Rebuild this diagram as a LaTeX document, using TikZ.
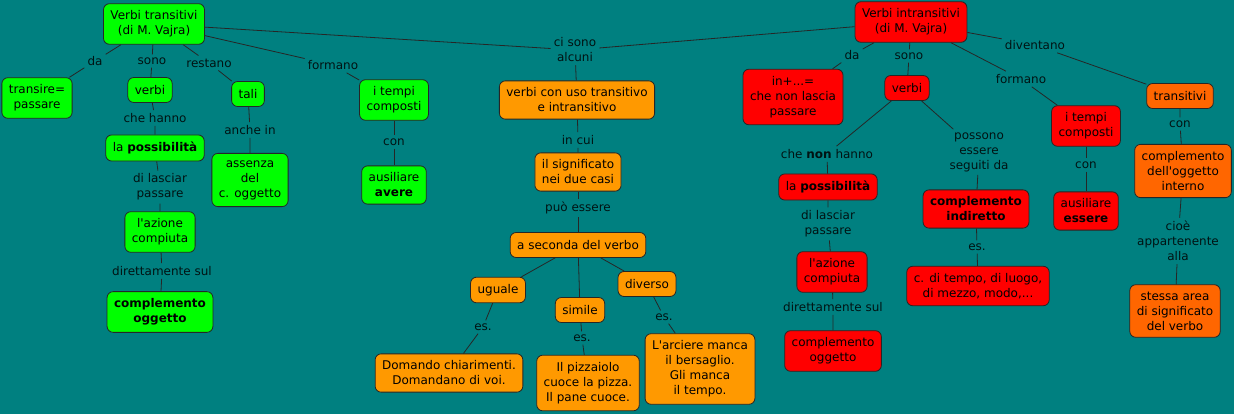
\documentclass[tikz,border=0pt]{standalone}
\usepackage{fontspec}
\setmainfont{DejaVu Sans}[Ligatures=TeXOff]

\definecolor{mapbg}{RGB}{0,128,128}
\definecolor{tgreen}{RGB}{0,255,0}
\definecolor{mred}{RGB}{255,0,0}
\definecolor{morange}{RGB}{255,153,0}
\definecolor{mdark}{RGB}{255,102,0}

\tikzset{
  box/.style={draw=black!85, rounded corners=6pt, line width=0.8pt, align=center,
    inner xsep=7pt, inner ysep=7pt, minimum height=25pt, font=\fontsize{12}{15}\selectfont},
  gbox/.style={box, fill=tgreen},
  rbox/.style={box, fill=mred},
  obox/.style={box, fill=morange},
  dbox/.style={box, fill=mdark},
  lbl/.style={align=center, inner sep=3pt, text=black!85!mapbg, font=\fontsize{12}{15}\selectfont},
  conn/.style={draw=black!85, line width=0.8pt},
}

\begin{document}
\begin{tikzpicture}[x=1pt,y=-1pt]
  \fill[mapbg] (0,0) rectangle (1234,414);
  \useasboundingbox (0,0) rectangle (1234,414);

  % transitive verbs (green)
  \node[gbox] (vt) at (154,24) {Verbi transitivi\\(di M. Vajra)};
  \node[gbox] (transire) at (37,98) {transire=\\passare};
  \node[gbox] (gverbi) at (150,90) {verbi};
  \node[gbox] (tali) at (248,94) {tali};
  \node[gbox] (gtempi) at (394,100) {i tempi\\composti};
  \node[gbox] (gposs) at (155,148) {la \textbf{possibilità}};
  \node[gbox] (assenza) at (250,180) {assenza\\del\\c. oggetto};
  \node[gbox] (avere) at (394,185) {ausiliare\\\textbf{avere}};
  \node[gbox] (gazione) at (160,232) {l'azione\\compiuta};
  \node[gbox] (gogg) at (160,312) {\textbf{complemento}\\\textbf{oggetto}};

  \node[lbl] (l1) at (95,61) {da};
  \node[lbl] (l2) at (152,61) {sono};
  \node[lbl] (l3) at (209,63) {restano};
  \node[lbl] (l4) at (333,65) {formano};
  \node[lbl] (l5) at (155,118) {che hanno};
  \node[lbl] (l6) at (250,130) {anche in};
  \node[lbl] (l7) at (394,142) {con};
  \node[lbl] (l8) at (160,187) {di lasciar\\passare};
  \node[lbl] (l9) at (162,271) {direttamente sul};

  % both ways (orange)
  \node[lbl] (cisono) at (575,50) {ci sono\\alcuni};
  \node[obox] (uso) at (577,100) {verbi con uso transitivo\\e intransitivo};
  \node[obox] (signif) at (578,172) {il significato\\nei due casi};
  \node[obox] (seconda) at (578,245) {a seconda del verbo};
  \node[obox] (uguale) at (498,290) {uguale};
  \node[obox] (simile) at (580,310) {simile};
  \node[obox] (diverso) at (647,284) {diverso};
  \node[obox] (domando) at (449,373) {Domando chiarimenti.\\Domandano di voi.};
  \node[obox] (pizza) at (588,383) {Il pizzaiolo\\cuoce la pizza.\\Il pane cuoce.};
  \node[obox] (arciere) at (700,369) {L'arciere manca\\il bersaglio.\\Gli manca\\il tempo.};

  \node[lbl] (m1) at (578,140) {in cui};
  \node[lbl] (m2) at (578,208) {può essere};
  \node[lbl] (m3) at (483,327) {es.};
  \node[lbl] (m4) at (582,338) {es.};
  \node[lbl] (m5) at (664,317) {es.};

  % intransitive verbs (red)
  \node[rbox] (vi) at (911,22) {Verbi intransitivi\\(di M. Vajra)};
  \node[rbox] (inplus) at (793,97) {in+...=\\che non lascia\\passare};
  \node[rbox] (rverbi) at (907,88) {verbi};
  \node[dbox] (transit) at (1180,96) {transitivi};
  \node[rbox] (rtempi) at (1086,126) {i tempi\\composti};
  \node[rbox] (rposs) at (828,187) {la \textbf{possibilità}};
  \node[rbox] (indir) at (976,209) {\textbf{complemento}\\\textbf{indiretto}};
  \node[rbox] (essere) at (1086,211) {ausiliare\\\textbf{essere}};
  \node[dbox] (interno) at (1183,171) {complemento\\dell'oggetto\\interno};
  \node[rbox] (razione) at (832,272) {l'azione\\compiuta};
  \node[rbox] (tempo) at (978,286) {c. di tempo, di luogo,\\di mezzo, modo,...};
  \node[dbox] (area) at (1175,311) {stessa area\\di significato\\del verbo};
  \node[rbox] (rogg) at (833,351) {complemento\\oggetto};

  \node[lbl] (r1) at (852,55) {da};
  \node[lbl] (r2) at (909,56) {sono};
  \node[lbl] (r3) at (1035,45) {diventano};
  \node[lbl] (r4) at (1021,79) {formano};
  \node[lbl] (r5) at (827,154) {che \textbf{non} hanno};
  \node[lbl] (r6) at (979,152) {possono\\essere\\seguiti da};
  \node[lbl] (r7) at (1086,165) {con};
  \node[lbl] (r8) at (1180,124) {con};
  \node[lbl] (r9) at (828,224) {di lasciar\\passare};
  \node[lbl] (r10) at (977,247) {es.};
  \node[lbl] (r11) at (1178,241) {cioè\\appartenente\\alla};
  \node[lbl] (r12) at (833,307) {direttamente sul};

  % connectors
  \foreach \a/\l/\b in {vt/l1/transire, vt/l2/gverbi, vt/l3/tali, vt/l4/gtempi,
      gverbi/l5/gposs, tali/l6/assenza, gtempi/l7/avere, gposs/l8/gazione,
      gazione/l9/gogg, vt/cisono/uso, uso/m1/signif, signif/m2/seconda,
      uguale/m3/domando, simile/m4/pizza, diverso/m5/arciere,
      vi/r1/inplus, vi/r2/rverbi, vi/r3/transit, vi/r4/rtempi,
      rverbi/r5/rposs, rverbi/r6/indir, rtempi/r7/essere, transit/r8/interno,
      rposs/r9/razione, indir/r10/tempo, interno/r11/area, razione/r12/rogg}
    { \draw[conn] (\a) -- (\l) -- (\b); }
  \draw[conn] (vi) -- (cisono);
  \foreach \b in {uguale,simile,diverso} { \draw[conn] (seconda) -- (\b); }
\end{tikzpicture}
\end{document}
